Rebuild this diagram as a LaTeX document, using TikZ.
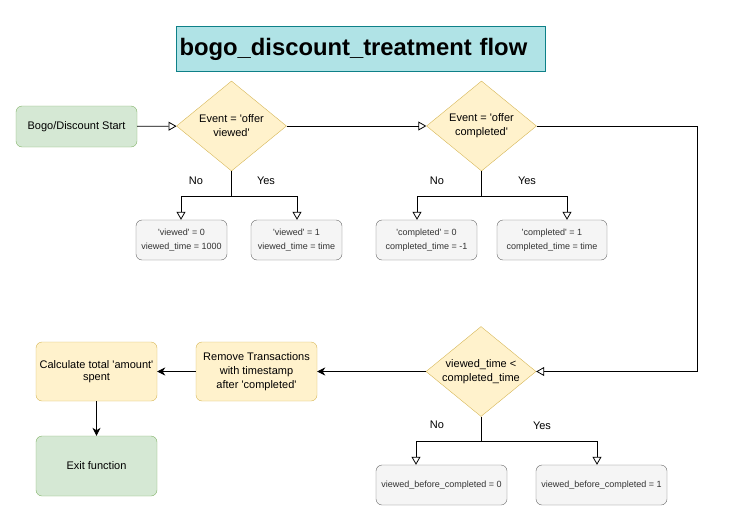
\documentclass[tikz,border=0pt]{standalone}
\usepackage{fontspec}
\setmainfont{Liberation Sans}
\usetikzlibrary{shapes.geometric,arrows.meta}
\definecolor{gfill}{HTML}{D5E8D4}\definecolor{gline}{HTML}{82B366}
\definecolor{yfill}{HTML}{FFF2CC}\definecolor{yline}{HTML}{D6B656}
\definecolor{sfill}{HTML}{F5F5F5}\definecolor{sline}{HTML}{666666}\definecolor{stext}{HTML}{333333}
\definecolor{tfill}{HTML}{B0E3E6}\definecolor{tline}{HTML}{0E8088}
\newcommand\qq{\textquotesingle}
\tikzset{
  gbox/.style={draw=gline,fill=gfill,rounded corners=6pt,minimum width=121pt,minimum height=41pt,font=\fontsize{11}{14}\selectfont,align=center,inner sep=1pt},
  ybox/.style={draw=yline,fill=yfill,rounded corners=6pt,minimum width=121pt,minimum height=59pt,font=\fontsize{11}{14}\selectfont,align=center,inner sep=1pt},
  sbox/.style={draw=sline,fill=sfill,rounded corners=6pt,minimum height=40pt,font=\fontsize{9}{14}\selectfont,text=stext,align=center,inner sep=1pt},
  dia/.style={diamond,draw=yline,fill=yfill,minimum width=110pt,minimum height=90pt,font=\fontsize{11}{14}\selectfont,align=center,inner sep=0pt,aspect=1.22},
  lbl/.style={font=\fontsize{11}{13}\selectfont},
  oarr/.style={-{Triangle[open,length=8pt,width=9pt]},line width=0.8pt},
  farr/.style={-{Stealth[length=8pt,width=8pt,inset=2.5pt]},line width=0.8pt},
  plain/.style={line width=0.8pt}
}
\begin{document}
\begin{tikzpicture}[x=1pt,y=-1pt]
\useasboundingbox (0,0) rectangle (731,530);
\node[draw=tline,fill=tfill,minimum width=369pt,minimum height=45pt,line width=0.8pt,text width=362pt,align=left,font=\fontsize{23.8}{26}\selectfont\bfseries] (title) at (360.5,49) {bogo\_discount\_treatment flow};

\node[gbox] (start) at (76.5,126.5) {Bogo/Discount Start};
\node[dia] (d1) at (231.5,126) {Event = \qq offer\\viewed\qq};
\node[dia] (d2) at (481.5,126) {Event = \qq offer\\completed\qq};
\node[dia] (d3) at (481,371.5) {viewed\_time <\\completed\_time};

\node[sbox,minimum width=91pt] (v0) at (181.5,240) {\qq viewed\qq{} = 0\\viewed\_time = 1000};
\node[sbox,minimum width=91pt] (v1) at (296.5,240) {\qq viewed\qq{} = 1\\viewed\_time = time};
\node[sbox,minimum width=101pt] (c0) at (426.5,240) {\qq completed\qq{} = 0\\completed\_time = -1};
\node[sbox,minimum width=110pt] (c1) at (552,240) {\qq completed\qq{} = 1\\completed\_time = time};
\node[sbox,minimum width=131pt] (b0) at (441.5,485) {viewed\_before\_completed = 0};
\node[sbox,minimum width=131pt] (b1) at (601.5,485) {viewed\_before\_completed = 1};

\node[ybox] (remove) at (256.5,371.5) {Remove Transactions\\with timestamp\\after \qq completed\qq};
\node[ybox,align=flush center] (calc) at (96.5,371.5) {\begin{tabular}{@{}c@{}}Calculate total \qq amount\qq\\[-1.5pt]spent\end{tabular}};
\node[gbox,minimum height=60pt] (exit) at (96.5,466) {Exit function};

\draw[oarr] (start) -- (d1);
\draw[oarr] (d1) -- (d2);
\coordinate (k1) at (697,126);
\coordinate (k2) at (697,371.5);
\draw[oarr] (d2.east) -- (k1) -- (k2) -- (d3.east);
\draw[farr] (d3.west) -- (remove.east);
\draw[farr] (remove.west) -- (calc.east);
\draw[farr] (calc.south) -- (exit.north);

\coordinate (j1) at (231.5,196);
\draw[plain] (d1.south) -- (j1);
\draw[oarr] (j1) -| (v0.north -| 181,0);
\draw[oarr] (j1) -| (v1.north -| 297,0);
\coordinate (j2) at (481.5,196);
\draw[plain] (d2.south) -- (j2);
\draw[oarr] (j2) -| (c0.north -| 417,0);
\draw[oarr] (j2) -| (c1.north -| 567,0);
\coordinate (j3) at (481,441);
\draw[plain] (d3.south) -- (j3);
\draw[oarr] (j3) -| (b0.north -| 416,0);
\draw[oarr] (j3) -| (b1.north -| 597,0);

\node[lbl] (n1) at (196,181) {No};
\node[lbl] (y1) at (266,181) {Yes};
\node[lbl] (n2) at (437,181) {No};
\node[lbl] (y2) at (527,181) {Yes};
\node[lbl] (n3) at (437,425) {No};
\node[lbl] (y3) at (542,426) {Yes};
\end{tikzpicture}
\end{document}
